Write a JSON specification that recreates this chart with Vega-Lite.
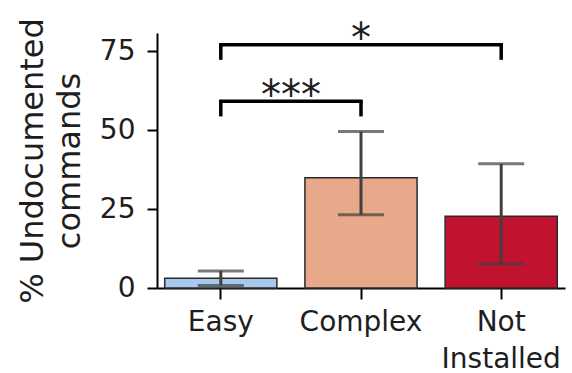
{
  "$schema": "https://vega.github.io/schema/vega-lite/v6.json",
  "width": 408,
  "height": 255,
  "autosize": {"type": "none"},
  "padding": {"left": 157, "top": 33, "right": 7, "bottom": 85},
  "background": "white",
  "config": {
    "view": {"stroke": null},
    "font": "DejaVu Sans",
    "axis": {"grid": false, "domainColor": "black", "tickColor": "black", "labelColor": "#1e1e1e", "titleColor": "#1e1e1e", "labelFont": "DejaVu Sans", "titleFont": "DejaVu Sans", "domainWidth": 2, "tickWidth": 2}
  },
  "datasets": {
    "bars": [
      {"condition": "Easy", "pct": 3.1, "lo": 0.8, "hi": 5.4},
      {"condition": "Complex", "pct": 34.9, "lo": 23.2, "hi": 49.5},
      {"condition": "Not Installed", "pct": 22.7, "lo": 7.7, "hi": 39.3}
    ],
    "brackets": [
      {"label": "***", "from": "Easy", "to": "Complex", "y": 59.1, "yend": 54.3},
      {"label": "*", "from": "Easy", "to": "Not Installed", "y": 77.0, "yend": 72.2}
    ],
    "ends": [
      {"label": "***", "condition": "Easy", "y": 59.1, "yend": 54.3},
      {"label": "***", "condition": "Complex", "y": 59.1, "yend": 54.3},
      {"label": "*", "condition": "Easy", "y": 77.0, "yend": 72.2},
      {"label": "*", "condition": "Not Installed", "y": 77.0, "yend": 72.2}
    ],
    "stars": [
      {"label": "***", "condition": "Easy", "y": 56.8},
      {"label": "*", "condition": "Complex", "y": 74.6}
    ]
  },
  "encoding": {
    "x": {
      "field": "condition",
      "type": "nominal",
      "sort": ["Easy", "Complex", "Not Installed"],
      "scale": {"domain": ["Easy", "Complex", "Not Installed"], "paddingInner": 0.2, "paddingOuter": 0.055},
      "axis": {
        "title": null,
        "labelAngle": 0,
        "labelFontSize": 28,
        "labelPadding": 9,
        "tickSize": 11,
        "labelLineHeight": 37,
        "labelBaseline": "top",
        "labelExpr": "datum.value == 'Not Installed' ? ['Not', 'Installed'] : datum.value"
      }
    }
  },
  "layer": [
    {
      "data": {"name": "bars"},
      "mark": {"type": "bar", "stroke": "#2a2a2a", "strokeWidth": 1.5},
      "encoding": {
        "y": {
          "field": "pct",
          "type": "quantitative",
          "scale": {"domain": [0, 80.7], "nice": false, "zero": true},
          "axis": {
            "values": [0, 25, 50, 75],
            "title": ["% Undocumented", "commands"],
            "titleFontSize": 32,
            "titleFontWeight": "normal",
            "titleLineHeight": 37,
            "titlePadding": 13,
            "labelFontSize": 28,
            "labelPadding": 12,
            "tickSize": 10
          }
        },
        "fill": {
          "field": "condition",
          "type": "nominal",
          "scale": {"domain": ["Easy", "Complex", "Not Installed"], "range": ["#a8c8ec", "#e8a88a", "#c1132f"]},
          "legend": null
        }
      }
    },
    {
      "data": {"name": "bars"},
      "mark": {"type": "rule", "color": "#404040", "strokeWidth": 3},
      "encoding": {
        "y": {"field": "lo", "type": "quantitative"},
        "y2": {"field": "hi"}
      }
    },
    {
      "data": {"name": "bars"},
      "mark": {"type": "tick", "color": "#404040", "thickness": 3, "size": 46, "orient": "horizontal"},
      "encoding": {"y": {"field": "lo", "type": "quantitative"}}
    },
    {
      "data": {"name": "bars"},
      "mark": {"type": "tick", "color": "#404040", "thickness": 3, "size": 46, "orient": "horizontal"},
      "encoding": {"y": {"field": "hi", "type": "quantitative"}}
    },
    {
      "data": {"name": "brackets"},
      "mark": {"type": "rule", "color": "black", "strokeWidth": 3.5, "strokeCap": "square"},
      "encoding": {
        "x": {"field": "from", "type": "nominal", "bandPosition": 0.5},
        "x2": {"field": "to", "bandPosition": 0.5},
        "y": {"field": "y", "type": "quantitative"}
      }
    },
    {
      "data": {"name": "ends"},
      "mark": {"type": "rule", "color": "black", "strokeWidth": 3.5},
      "encoding": {
        "y": {"field": "y", "type": "quantitative"},
        "y2": {"field": "yend"}
      }
    },
    {
      "data": {"name": "stars"},
      "transform": [{"filter": "datum.label == '***'"}],
      "mark": {"type": "text", "fontSize": 40, "baseline": "alphabetic", "color": "#1e1e1e"},
      "encoding": {
        "x": {"field": "condition", "type": "nominal", "bandPosition": 1.125},
        "y": {"field": "y", "type": "quantitative"},
        "text": {"field": "label"}
      }
    },
    {
      "data": {"name": "stars"},
      "transform": [{"filter": "datum.label == '*'"}],
      "mark": {"type": "text", "fontSize": 40, "baseline": "alphabetic", "color": "#1e1e1e"},
      "encoding": {
        "x": {"field": "condition", "type": "nominal", "bandPosition": 0.5},
        "y": {"field": "y", "type": "quantitative"},
        "text": {"field": "label"}
      }
    }
  ]
}
